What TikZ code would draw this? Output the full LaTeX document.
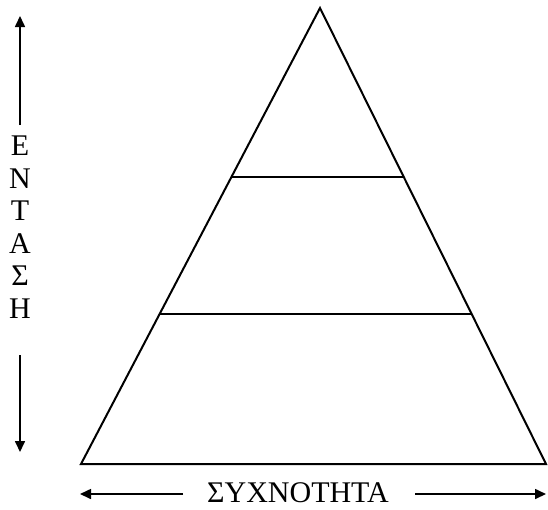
\documentclass[tikz,border=0pt]{standalone}
\usepackage{fontspec}
\setmainfont{Liberation Serif}
\usetikzlibrary{arrows.meta,calc}

\tikzset{
  edge/.style={line width=2pt, line join=miter},
  axis/.style={line width=1.6pt, -{Triangle[length=11pt,width=10pt]}},
  axislabel/.style={inner sep=0pt, font=\fontsize{30}{32.5}\selectfont}
}

\begin{document}
\begin{tikzpicture}[x=1pt,y=-1pt]
\useasboundingbox (0,0) rectangle (548,509);
% pyramid
\coordinate (apex) at (320,8);
\coordinate (bl) at (81,464);
\coordinate (br) at (546,464);
\draw[edge] (bl) -- (apex) -- (br) -- cycle;
\draw[edge] ($(apex)!0.371!(bl)$) -- ($(apex)!0.371!(br)$);
\draw[edge] ($(apex)!0.671!(bl)$) -- ($(apex)!0.671!(br)$);
% vertical axis
\node[axislabel, align=center] (entasi) at (20,227) {Ε\\Ν\\Τ\\Α\\Σ\\Η};
\coordinate (u0) at (20,125);
\coordinate (u1) at (20,16);
\coordinate (d0) at (20,355);
\coordinate (d1) at (20,452);
\draw[axis] (u0) -- (u1);
\draw[axis] (d0) -- (d1);
% horizontal axis
\node[axislabel] (syxn) at (298,493) {ΣΥΧΝΟΤΗΤΑ};
\coordinate (l0) at (183,494);
\coordinate (l1) at (80,494);
\coordinate (r0) at (415,494);
\coordinate (r1) at (546,494);
\draw[axis] (l0) -- (l1);
\draw[axis] (r0) -- (r1);
\end{tikzpicture}
\end{document}
